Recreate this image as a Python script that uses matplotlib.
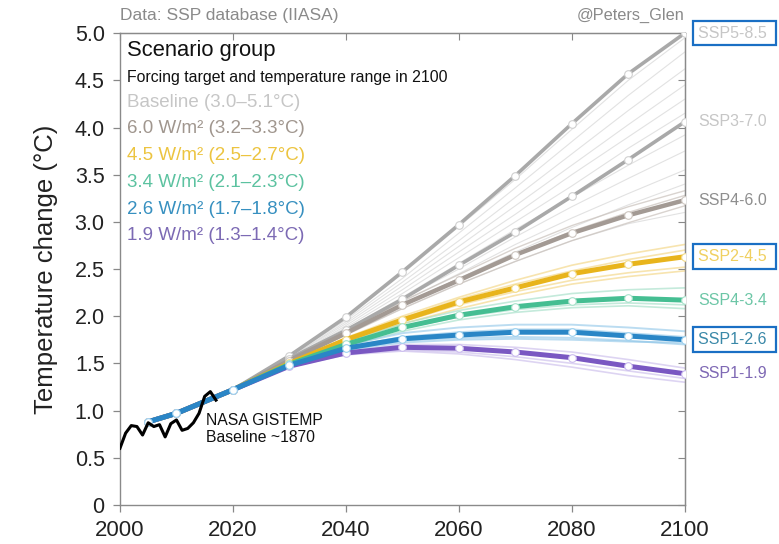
import matplotlib
matplotlib.use("Agg")
import matplotlib.pyplot as plt

plt.rcParams['font.family'] = ['Liberation Sans', 'DejaVu Sans']

# marker years of the scenario lines
years = [2005, 2010, 2020, 2030, 2040, 2050, 2060, 2070, 2080, 2090, 2100]

ssp585 = [0.88, 0.97, 1.22, 1.58, 1.99, 2.47, 2.97, 3.49, 4.04, 4.57, 5.00]
ssp370 = [0.88, 0.97, 1.22, 1.55, 1.85, 2.18, 2.54, 2.89, 3.27, 3.66, 4.06]
ssp460 = [0.88, 0.97, 1.22, 1.53, 1.82, 2.12, 2.38, 2.65, 2.88, 3.07, 3.23]
ssp245 = [0.88, 0.97, 1.22, 1.50, 1.75, 1.96, 2.15, 2.30, 2.45, 2.55, 2.63]
ssp434 = [0.88, 0.97, 1.22, 1.49, 1.70, 1.88, 2.01, 2.10, 2.16, 2.19, 2.17]
ssp126 = [0.88, 0.97, 1.22, 1.48, 1.66, 1.76, 1.80, 1.83, 1.83, 1.79, 1.75]
ssp119 = [0.88, 0.97, 1.22, 1.47, 1.61, 1.67, 1.66, 1.62, 1.56, 1.47, 1.39]

# thin ensemble members, same years from 2020 on
thin_years = [2020, 2030, 2040, 2050, 2060, 2070, 2080, 2090, 2100]
baseline_thin = [
    [1.22, 1.58, 1.98, 2.45, 2.95, 3.45, 3.98, 4.50, 4.95],
    [1.22, 1.57, 1.96, 2.40, 2.88, 3.36, 3.85, 4.34, 4.80],
    [1.22, 1.56, 1.94, 2.36, 2.80, 3.26, 3.72, 4.18, 4.62],
    [1.22, 1.56, 1.92, 2.32, 2.74, 3.17, 3.60, 4.03, 4.45],
    [1.22, 1.55, 1.90, 2.28, 2.68, 3.08, 3.50, 3.90, 4.30],
    [1.22, 1.55, 1.88, 2.24, 2.62, 3.00, 3.38, 3.78, 4.15],
    [1.22, 1.54, 1.86, 2.20, 2.56, 2.92, 3.26, 3.60, 3.92],
    [1.22, 1.54, 1.85, 2.18, 2.50, 2.84, 3.16, 3.46, 3.75],
    [1.22, 1.53, 1.84, 2.15, 2.45, 2.76, 3.04, 3.30, 3.55],
    [1.22, 1.53, 1.83, 2.12, 2.40, 2.68, 2.94, 3.18, 3.40],
    [1.22, 1.52, 1.81, 2.08, 2.34, 2.58, 2.80, 2.98, 3.10],
]
rcp60_thin = [
    [1.22, 1.54, 1.84, 2.16, 2.44, 2.72, 2.96, 3.16, 3.33],
    [1.22, 1.53, 1.82, 2.12, 2.40, 2.66, 2.90, 3.10, 3.28],
    [1.22, 1.52, 1.80, 2.08, 2.34, 2.58, 2.80, 2.99, 3.17],
]
rcp45_thin = [
    [1.22, 1.51, 1.77, 2.00, 2.20, 2.38, 2.54, 2.66, 2.76],
    [1.22, 1.51, 1.76, 1.98, 2.18, 2.34, 2.48, 2.60, 2.70],
    [1.22, 1.50, 1.74, 1.94, 2.12, 2.26, 2.38, 2.46, 2.52],
    [1.22, 1.49, 1.73, 1.92, 2.08, 2.22, 2.34, 2.42, 2.48],
]
rcp34_thin = [
    [1.22, 1.50, 1.72, 1.92, 2.06, 2.16, 2.24, 2.28, 2.30],
    [1.22, 1.49, 1.70, 1.87, 1.99, 2.07, 2.12, 2.14, 2.12],
    [1.22, 1.48, 1.68, 1.84, 1.96, 2.04, 2.09, 2.11, 2.08],
]
rcp26_thin = [
    [1.22, 1.49, 1.69, 1.82, 1.88, 1.91, 1.91, 1.88, 1.84],
    [1.22, 1.48, 1.67, 1.78, 1.83, 1.86, 1.86, 1.82, 1.78],
    [1.22, 1.47, 1.65, 1.74, 1.77, 1.78, 1.77, 1.74, 1.70],
    [1.22, 1.48, 1.64, 1.72, 1.75, 1.76, 1.75, 1.73, 1.72],
]
rcp19_thin = [
    [1.22, 1.47, 1.62, 1.70, 1.70, 1.67, 1.62, 1.54, 1.45],
    [1.22, 1.46, 1.60, 1.64, 1.62, 1.57, 1.50, 1.42, 1.34],
    [1.22, 1.46, 1.59, 1.63, 1.60, 1.54, 1.46, 1.37, 1.30],
]

# NASA GISTEMP, baseline ~1870
gis_years = list(range(2000, 2018))
gis_temp = [0.60, 0.76, 0.84, 0.83, 0.74, 0.87, 0.83, 0.85, 0.72, 0.86,
            0.90, 0.79, 0.81, 0.87, 0.97, 1.15, 1.20, 1.11]

c_base = '#a9a9a9'
c_60 = '#a39a94'
c_45 = '#e8b41c'
c_34 = '#45be92'
c_26 = '#2a86c6'
c_19 = '#7a58c2'

fig = plt.figure(figsize=(7.79, 5.44), dpi=100)
ax = fig.add_axes([0.154, 0.072, 0.725, 0.867])

# thin lines
for m in baseline_thin:
    ax.plot(thin_years, m, color='#d6d6d6', lw=0.8, alpha=0.7, zorder=1)
for m in rcp60_thin:
    ax.plot(thin_years, m, color='#c9c1bb', lw=1.0, alpha=0.7, zorder=1)
for m in rcp45_thin:
    ax.plot(thin_years, m, color='#f2d27a', lw=1.2, alpha=0.6, zorder=1)
for m in rcp34_thin:
    ax.plot(thin_years, m, color='#9ddcc3', lw=1.2, alpha=0.6, zorder=1)
for m in rcp26_thin:
    ax.plot(thin_years, m, color='#8fc6e8', lw=1.4, alpha=0.6, zorder=1)
for m in rcp19_thin:
    ax.plot(thin_years, m, color='#c7b8ea', lw=1.2, alpha=0.6, zorder=1)

mk = dict(marker='o', markersize=5.5, markerfacecolor='white', markeredgewidth=0.8)
ax.plot(years, ssp585, color=c_base, lw=2.6, markeredgecolor='#d0d0d0', zorder=3, **mk)
ax.plot(years, ssp370, color=c_base, lw=2.6, markeredgecolor='#d0d0d0', zorder=3, **mk)
ax.plot(years, ssp460, color=c_60, lw=3.2, markeredgecolor='#cfc8c2', zorder=3, **mk)
ax.plot(years, ssp245, color=c_45, lw=3.6, markeredgecolor='#f3dc8a', zorder=3, **mk)
ax.plot(years, ssp434, color=c_34, lw=3.6, markeredgecolor='#a8e2cb', zorder=3, **mk)
ax.plot(years, ssp119, color=c_19, lw=3.6, markeredgecolor='#cbbcee', zorder=3, **mk)
ax.plot(years, ssp126, color=c_26, lw=3.6, markeredgecolor='#9cd0ee', zorder=4, **mk)

ax.plot(gis_years, gis_temp, color='black', lw=2.2, zorder=5)
ax.text(2015.2, 0.97, 'NASA GISTEMP\nBaseline ~1870', fontsize=11.3,
        va='top', ha='left', linespacing=1.1, color='#111111')

# right hand labels
labels = [
    ('SSP5-8.5', ssp585[-1], '#c6c6c6', True),
    ('SSP3-7.0', ssp370[-1], '#c6c6c6', False),
    ('SSP4-6.0', ssp460[-1], '#8e8e8e', False),
    ('SSP2-4.5', ssp245[-1], '#f0d060', True),
    ('SSP4-3.4', ssp434[-1], '#6cc6a6', False),
    ('SSP1-2.6', ssp126[-1], '#3a88a8', True),
    ('SSP1-1.9', ssp119[-1], '#7e68b4', False),
]
for txt, yv, col, boxed in labels:
    kw = {}
    if boxed:
        kw['bbox'] = dict(boxstyle='square,pad=0.3', fc='none', ec='#1a6fc4', lw=1.6)
    ax.annotate(txt + (' ' if boxed else ''), xy=(2100, yv), xytext=(9.5, 0),
                textcoords='offset points', va='center', ha='left',
                fontsize=11.5, color=col, annotation_clip=False, **kw)

# legend block
ax.text(0.012, 0.964, 'Scenario group', transform=ax.transAxes, fontsize=15.8,
        va='center', color='#111111')
ax.text(0.012, 0.905, 'Forcing target and temperature range in 2100',
        transform=ax.transAxes, fontsize=11.4, va='center', color='#111111')
legend_rows = [
    ('Baseline (3.0–5.1°C)', '#c6c6c6'),
    ('6.0 W/m² (3.2–3.3°C)', '#a0968e'),
    ('4.5 W/m² (2.5–2.7°C)', '#ecc440'),
    ('3.4 W/m² (2.1–2.3°C)', '#5cc2a0'),
    ('2.6 W/m² (1.7–1.8°C)', '#3790c0'),
    ('1.9 W/m² (1.3–1.4°C)', '#7c6ab4'),
]
row_y = [0.852, 0.797, 0.740, 0.683, 0.627, 0.570]
for (txt, col), yy in zip(legend_rows, row_y):
    ax.text(0.012, yy, txt, transform=ax.transAxes, fontsize=13.5,
            va='center', color=col)

fig.text(0.154, 0.972, 'Data: SSP database (IIASA)', fontsize=12.5,
         color='#8a8a8a', ha='left', va='center')
fig.text(0.879, 0.972, '@Peters_Glen', fontsize=11.8,
         color='#8a8a8a', ha='right', va='center')

ax.set_xlim(2000, 2100)
ax.set_ylim(0, 5)
ax.set_xticks([2000, 2020, 2040, 2060, 2080, 2100])
yt = [0, 0.5, 1, 1.5, 2, 2.5, 3, 3.5, 4, 4.5, 5]
ax.set_yticks(yt)
ax.set_yticklabels(['0'] + ['%.1f' % v for v in yt[1:]])
ax.tick_params(direction='out', length=5, width=0.9, color='#888888',
               labelcolor='#222222')
ax.tick_params(axis='y', labelsize=15.5, pad=6)
ax.tick_params(axis='x', labelsize=16, pad=6)
ax.set_ylabel('Temperature change (°C)', fontsize=18.5, color='#222222', labelpad=12)

for s in ax.spines.values():
    s.set_color('#8a8a8a')
    s.set_linewidth(1.0)

top = ax.secondary_xaxis('top')
top.set_xticks([2000, 2020, 2040, 2060, 2080, 2100])
top.tick_params(direction='in', length=5, color='#888888', labeltop=False)
top.spines['top'].set_color('#8a8a8a')
right = ax.secondary_yaxis('right')
right.set_yticks(yt)
right.tick_params(direction='in', length=5, color='#888888', labelright=False)
right.spines['right'].set_color('#8a8a8a')

plt.savefig('out.png', dpi=100)
